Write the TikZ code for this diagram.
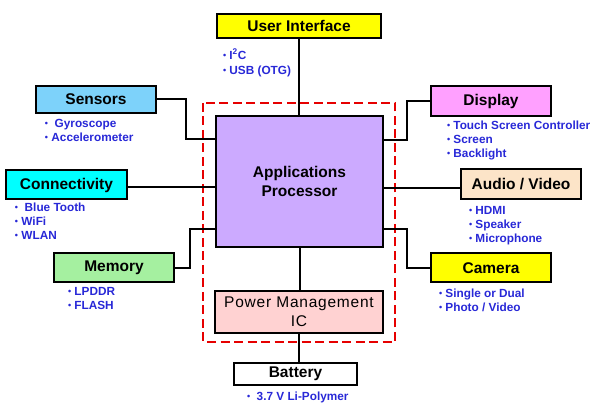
\documentclass[tikz,border=0pt]{standalone}
\usepackage{fontspec}
\setmainfont{Liberation Sans}
\definecolor{uiyellow}{RGB}{255,255,0}
\definecolor{sensblue}{RGB}{125,210,250}
\definecolor{conncyan}{RGB}{0,255,255}
\definecolor{memgreen}{RGB}{165,240,160}
\definecolor{disppink}{RGB}{255,160,255}
\definecolor{avpeach}{RGB}{252,228,200}
\definecolor{aplilac}{RGB}{204,170,255}
\definecolor{pmicpink}{RGB}{255,210,210}
\definecolor{itemblue}{RGB}{40,40,215}
\definecolor{dashred}{RGB}{230,0,0}
\newcommand{\itm}{\raisebox{0.6pt}{\fontsize{9}{9}\selectfont•}\ }
\begin{document}
\begin{tikzpicture}[x=1pt,y=-1pt,line width=2pt]
\tikzstyle{blk}=[draw,line width=2pt,inner sep=0pt,font=\fontsize{15.5}{17}\selectfont\bfseries]
\tikzstyle{lst}=[anchor=north west,inner sep=0pt,align=left,text=itemblue,font=\fontsize{11.8}{14}\selectfont\bfseries]
\useasboundingbox (0,0) rectangle (595,419);
% red dashed border round the processor
\draw[dashred,line width=2.5pt,dash pattern=on 9pt off 4.5pt] (203,103) rectangle (395,342);
% blocks
\node[blk,fill=uiyellow,minimum width=164,minimum height=24] (ui) at (299,26) {User Interface};
\node[blk,fill=sensblue,minimum width=120,minimum height=27] (sens) at (96,99.5) {Sensors};
\node[blk,fill=conncyan,minimum width=121,minimum height=29] (conn) at (66.5,185) {Connectivity};
\node[blk,fill=memgreen,minimum width=120,minimum height=29] (mem) at (114,268) {Memory};
\node[blk,fill=disppink,minimum width=120,minimum height=30] (disp) at (491,101) {Display};
\node[blk,fill=avpeach,minimum width=120,minimum height=30] (av) at (521,184.5) {Audio / Video};
\node[blk,fill=uiyellow,minimum width=120,minimum height=29] (cam) at (491,268) {Camera};
\node[blk,fill=aplilac,minimum width=167,minimum height=131,align=center,font=\fontsize{15.5}{19}\selectfont\bfseries] (ap) at (299.5,181.5) {Applications\\Processor};
\node[blk,fill=pmicpink,minimum width=168,minimum height=42,align=center,font=\fontsize{15.5}{19}\selectfont\addfontfeatures{LetterSpace=5}] (pmic) at (299,312) {Power Management\\IC};
\node[blk,fill=white,minimum width=123,minimum height=22] (bat) at (295.5,374) {Battery};
% connectors
\draw (ui.south) -- (ui.south |- ap.north);
\draw (sens.east) -| (186,139) -- (ap.west |- 186,139);
\draw (conn.east |- 0,187) -- (ap.west |- 0,187);
\draw (mem.east) -| (190,229) -- (ap.west |- 190,229);
\draw (disp.west) -| (407,140) -- (ap.east |- 407,140);
\draw (av.west |- 0,188) -- (ap.east |- 0,188);
\draw (cam.west) -| (407,229) -- (ap.east |- 407,229);
\draw (ap.south) -- (ap.south |- pmic.north);
\draw (bat.north -| pmic.south) -- (pmic.south);
% bullet lists
\node[lst,font=\fontsize{11.8}{15}\selectfont\bfseries] (uil) at (222,48) {\itm I\textsuperscript{2}C\\\itm USB (OTG)};
\node[lst] (sensl) at (44,118) {\itm\ Gyroscope\\\itm Accelerometer};
\node[lst] (connl) at (14,202) {\itm\ Blue Tooth\\\itm WiFi\\\itm WLAN};
\node[lst] (meml) at (67,286) {\itm LPDDR\\\itm FLASH};
\node[lst] (displ) at (446,120) {\itm Touch Screen Controller\\\itm Screen\\\itm Backlight};
\node[lst] (avl) at (468,205) {\itm HDMI\\\itm Speaker\\\itm Microphone};
\node[lst] (caml) at (438,288) {\itm Single or Dual\\\itm Photo / Video};
\node[lst] (batl) at (246,391) {\itm\ 3.7 V Li-Polymer};
\end{tikzpicture}
\end{document}
